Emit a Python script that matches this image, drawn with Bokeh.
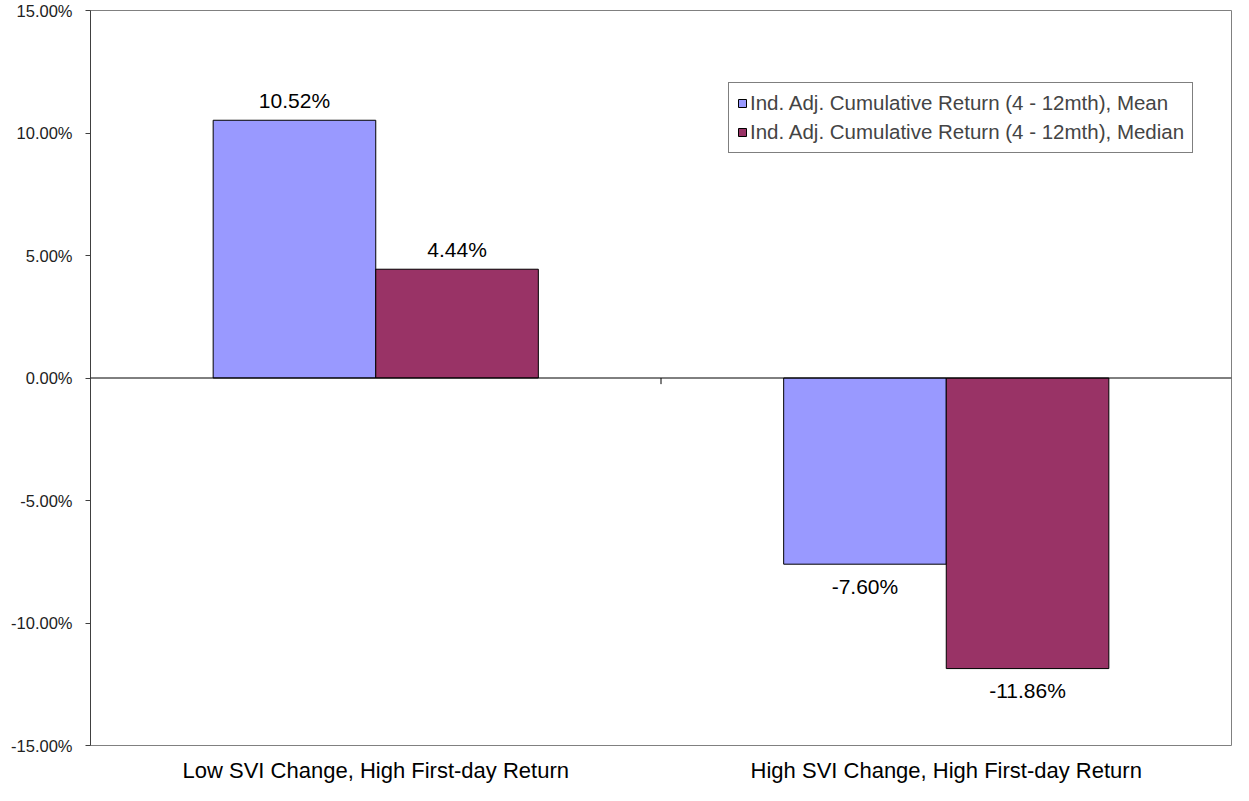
from bokeh.plotting import figure
from bokeh.models import (FactorRange, ColumnDataSource, Span, FixedTicker,
                          PrintfTickFormatter)
from bokeh.transform import dodge
from bokeh.embed import file_html
from bokeh.resources import INLINE
from bokeh.core.properties import value

categories = ["Low SVI Change, High First-day Return",
              "High SVI Change, High First-day Return"]
series_names = ["Ind. Adj. Cumulative Return (4 - 12mth), Mean",
                "Ind. Adj. Cumulative Return (4 - 12mth), Median"]
mean_values = [10.52, -7.60]
median_values = [4.44, -11.86]
y_ticks = [-15, -10, -5, 0, 5, 10, 15]

colors = ["#9999FF", "#993366"]
FONT = "Liberation Sans"

p = figure(x_range=FactorRange(factors=categories), y_range=(-15, 15),
           width=1233, height=785, output_backend="svg", toolbar_location=None,
           min_border_left=90, min_border_right=2, min_border_top=10, min_border_bottom=30)

bar_w = 0.285
off = bar_w / 2

for vals, name, col, dx in [(mean_values, series_names[0], colors[0], -off),
                            (median_values, series_names[1], colors[1], off)]:
    src = ColumnDataSource(dict(
        cat=categories, val=vals,
        lab=[f"{v:.2f}%" for v in vals],
        yoff=[-20 if v >= 0 else 22 for v in vals]))
    p.vbar(x=dodge("cat", dx, range=p.x_range), top="val", bottom=0, width=bar_w,
           source=src, fill_color=col, line_color="#000000", line_width=1,
           legend_label=name)
    p.text(x=dodge("cat", dx, range=p.x_range), y="val", text="lab", source=src,
           y_offset="yoff", text_align="center", text_baseline="middle",
           text_font=value(FONT), text_font_size="21px", text_color="#000000")

# zero axis line and category boundary tick
p.add_layout(Span(location=0, dimension="width", line_color="#000000", line_width=1))
p.segment(x0=[1.0], y0=[0], x1=[1.0], y1=[-0.25], line_color="#000000", line_width=1)

p.xgrid.visible = False
p.ygrid.visible = False
p.outline_line_color = "#808080"
p.outline_line_width = 1
p.background_fill_color = "white"
p.border_fill_color = "white"

ya = p.yaxis[0]
ya.ticker = FixedTicker(ticks=y_ticks)
ya.formatter = PrintfTickFormatter(format="%.2f%%")
ya.axis_line_color = "#404040"
ya.major_tick_line_color = "#404040"
ya.major_tick_in = 0
ya.major_tick_out = 5
ya.minor_tick_line_color = None
ya.major_label_text_font = FONT
ya.major_label_text_font_size = "16.5px"
ya.major_label_text_color = "#222222"
ya.major_label_standoff = 13

xa = p.xaxis[0]
xa.axis_line_color = None
xa.major_tick_line_color = None
xa.minor_tick_line_color = None
xa.major_label_text_font = FONT
xa.major_label_text_font_size = "22px"
xa.major_label_text_color = "#000000"
xa.major_label_standoff = 6

lg = p.legend[0]
lg.location = (638, 592)
lg.border_line_color = "#000000"
lg.border_line_width = 1
lg.background_fill_color = "white"
lg.background_fill_alpha = 1
lg.padding = 8
lg.spacing = 5
lg.margin = 0
lg.glyph_width = 10
lg.glyph_height = 10
lg.label_standoff = 3
lg.label_text_font = FONT
lg.label_text_font_size = "20.5px"
lg.label_height = 20

open("out.html", "w").write(file_html(p, INLINE))
